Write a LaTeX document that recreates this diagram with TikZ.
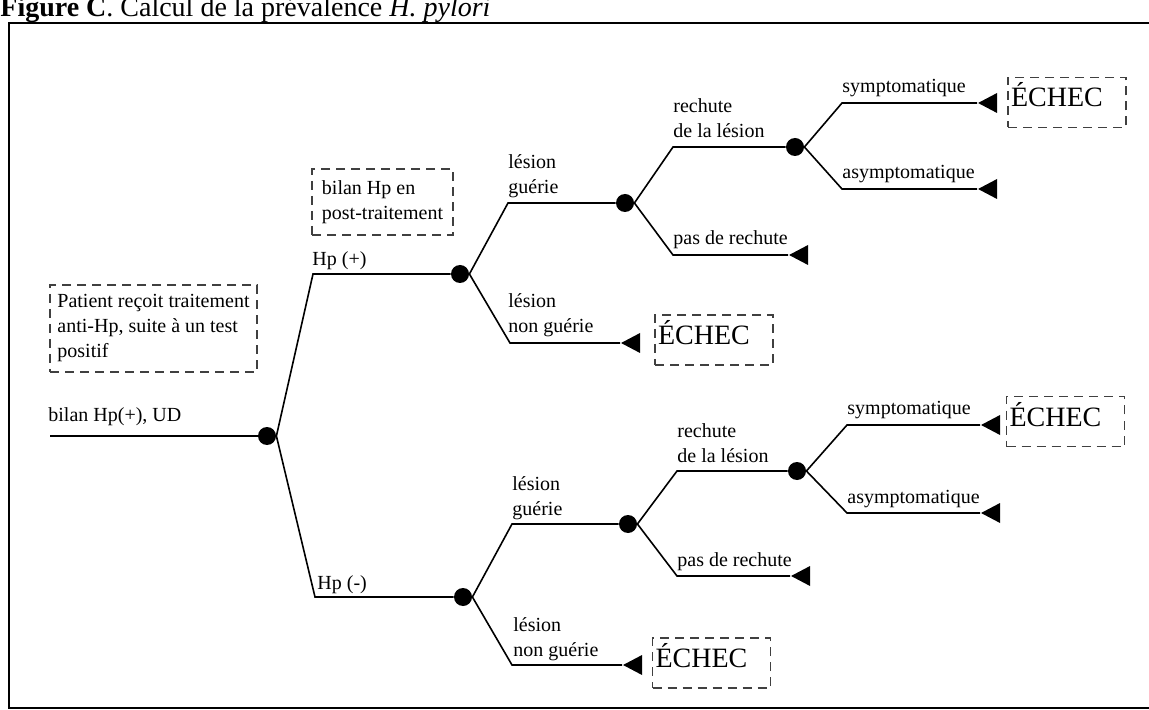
\documentclass[tikz,border=0pt]{standalone}
\usepackage{fontspec}
\setmainfont{Liberation Serif}
\usetikzlibrary{shapes.geometric}

\begin{document}
\begin{tikzpicture}[x=0.5pt,y=-0.5pt,
  branch/.style={line width=0.8pt},
  chance/.style={circle, fill=black, inner sep=0pt, minimum size=9pt},
  leaf/.style={isosceles triangle, isosceles triangle stretches,
    shape border rotate=180, fill=black, inner sep=0pt,
    minimum width=10pt, minimum height=9.5pt, anchor=apex},
  lab/.style={font=\fontsize{10}{12.5}\selectfont, inner sep=0pt,
    anchor=base west, align=left},
  note/.style={draw=black!75, line width=0.8pt,
    dash pattern=on 4.5pt off 3pt, font=\fontsize{10}{12.5}\selectfont,
    align=left, inner xsep=2.5pt, inner ysep=0pt},
  fail/.style={note, font=\fontsize{14}{16}\selectfont, inner xsep=1.5pt,
    text width=56pt, text height=12pt, text depth=7.5pt,
    minimum width=59pt, minimum height=25pt}
]
\useasboundingbox (0,0) rectangle (1149,710);
\clip (0,0) rectangle (1149,710);

% heading and frame
\node[anchor=base west, inner sep=0pt, font=\fontsize{14}{16}\selectfont]
  (title) at (0,17) {\textbf{Figure C}. Calcul de la prévalence \textit{H. pylori}};
\draw[line width=1pt] (1149,23) -- (9,23) -- (9,708) -- (1149,708);

% notes
\node[note, minimum width=103.5pt, minimum height=43.5pt] (patient) at (153.5,328.5)
  {Patient reçoit traitement\\anti-Hp, suite à un test\\positif};
\node[note, minimum width=70.5pt, minimum height=33pt] (postbilan) at (382.5,202)
  {bilan Hp en\\post-traitement};

% decision tree: root
\coordinate (root) at (50,436);
\node[chance] (d0) at (267,436) {};
\draw[branch] (root) -- (d0);
\node[lab] (lroot) at (48,422) {bilan Hp(+), UD};

% Hp (+)
\coordinate (hpp) at (313,274);
\node[chance] (d1) at (460,274) {};
\draw[branch] (d0.east) -- (hpp) -- (d1);
\node[lab] (lhpp) at (312,266) {Hp (+)};

\coordinate (g1) at (508,203);
\node[chance] (d11) at (625,203) {};
\draw[branch] (d1.east) -- (g1) -- (d11);
\node[lab] (lg1) at (508,194) {lésion\\guérie};

\coordinate (n1) at (510,343);
\node[leaf] (t1) at (620,343) {};
\draw[branch] (d1.east) -- (n1) -- (t1);
\node[lab] (ln1) at (508,333) {lésion\\non guérie};
\node[fail] (e1) at (714,340) {ÉCHEC};

\coordinate (r1) at (673,147);
\node[chance] (d111) at (795,147) {};
\draw[branch] (d11.east) -- (r1) -- (d111);
\node[lab] (lr1) at (673,138) {rechute\\de la lésion};

\coordinate (pr1) at (673,255);
\node[leaf] (t11) at (788,255) {};
\draw[branch] (d11.east) -- (pr1) -- (t11);
\node[lab] (lpr1) at (673,245) {pas de rechute};

\coordinate (s1) at (842,103);
\node[leaf] (t111) at (977,103) {};
\draw[branch] (d111.east) -- (s1) -- (t111);
\node[lab] (ls1) at (842,93) {symptomatique};
\node[fail] (e11) at (1067,102.5) {ÉCHEC};

\coordinate (a1) at (842,189);
\node[leaf] (t112) at (977,189) {};
\draw[branch] (d111.east) -- (a1) -- (t112);
\node[lab] (la1) at (842,179) {asymptomatique};

% Hp (-)
\coordinate (hpm) at (315,597);
\node[chance] (d2) at (463,597) {};
\draw[branch] (d0.east) -- (hpm) -- (d2);
\node[lab] (lhpm) at (317,589) {Hp (-)};

\coordinate (g2) at (512,524);
\node[chance] (d21) at (628,524) {};
\draw[branch] (d2.east) -- (g2) -- (d21);
\node[lab] (lg2) at (512,515) {lésion\\guérie};

\coordinate (n2) at (512,665);
\node[leaf] (t2) at (622,665) {};
\draw[branch] (d2.east) -- (n2) -- (t2);
\node[lab] (ln2) at (513,656) {lésion\\non guérie};
\node[fail] (e2) at (711.5,663) {ÉCHEC};

\coordinate (r2) at (677,471);
\node[chance] (d211) at (797,471) {};
\draw[branch] (d21.east) -- (r2) -- (d211);
\node[lab] (lr2) at (677,462) {rechute\\de la lésion};

\coordinate (pr2) at (677,576);
\node[leaf] (t21) at (790,576) {};
\draw[branch] (d21.east) -- (pr2) -- (t21);
\node[lab] (lpr2) at (677,566) {pas de rechute};

\coordinate (s2) at (847,425);
\node[leaf] (t211) at (980,425) {};
\draw[branch] (d211.east) -- (s2) -- (t211);
\node[lab] (ls2) at (847,415) {symptomatique};
\node[fail] (e21) at (1065.5,421.5) {ÉCHEC};

\coordinate (a2) at (847,513);
\node[leaf] (t212) at (980,513) {};
\draw[branch] (d211.east) -- (a2) -- (t212);
\node[lab] (la2) at (847,503) {asymptomatique};
\end{tikzpicture}
\end{document}
